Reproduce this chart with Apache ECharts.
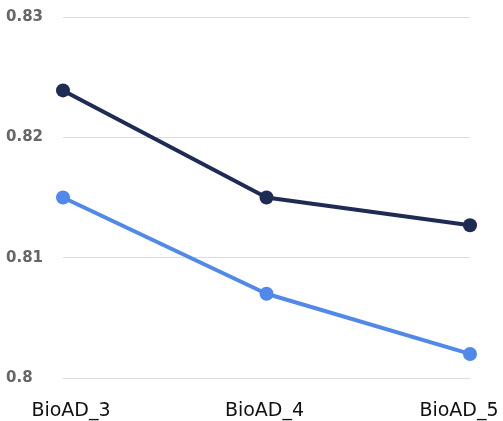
<!DOCTYPE html>
<html><head><meta charset="utf-8">
<script src="https://cdn.jsdelivr.net/npm/echarts@6/dist/echarts.min.js"></script>
<style>html,body{margin:0;padding:0;background:#fff}#c{width:503px;height:421px}</style>
</head><body><div id="c"></div>
<script>
const categories = ['BioAD_3', 'BioAD_4', 'BioAD_5'];
const seriesDark = [0.8239, 0.8150, 0.8127];
const seriesLight = [0.8150, 0.8070, 0.8020];
const yTicks = [0.80, 0.81, 0.82, 0.83];

const labelPad = [[0, 0, 0, 16], [0, 4, 0, 0], [0, 22, 0, 0]];
const chart = echarts.init(document.getElementById('c'));
chart.setOption({
  animation: false,
  grid: { left: 63, right: 33, top: 17, bottom: 43 },
  xAxis: {
    type: 'category',
    boundaryGap: false,
    data: categories.map((c, i) => ({ value: c, textStyle: { padding: labelPad[i] } })),
    axisLine: { show: false },
    axisTick: { show: false },
    axisLabel: { color: '#111', fontSize: 19, fontFamily: 'DejaVu Sans', margin: 24 }
  },
  yAxis: {
    type: 'value',
    min: 0.80, max: 0.83, interval: 0.01,
    axisLine: { show: false },
    axisTick: { show: false },
    splitLine: { lineStyle: { color: '#dcdcdc', width: 1 } },
    axisLabel: {
      color: '#666', fontSize: 15, fontWeight: 'bold', fontFamily: 'DejaVu Sans',
      align: 'left', margin: 57, padding: [4, 0, 0, 0],
      formatter: v => { const t = yTicks.find(x => Math.abs(x - v) < 1e-9); return String(+(t ?? v).toFixed(2)); }
    }
  },
  series: [
    { type: 'line', data: seriesDark, symbol: 'circle', symbolSize: 14,
      lineStyle: { color: '#1e2b55', width: 4 }, itemStyle: { color: '#1e2b55' } },
    { type: 'line', data: seriesLight, symbol: 'circle', symbolSize: 14,
      lineStyle: { color: '#5189ea', width: 4 }, itemStyle: { color: '#5189ea' } }
  ]
});
</script></body></html>
